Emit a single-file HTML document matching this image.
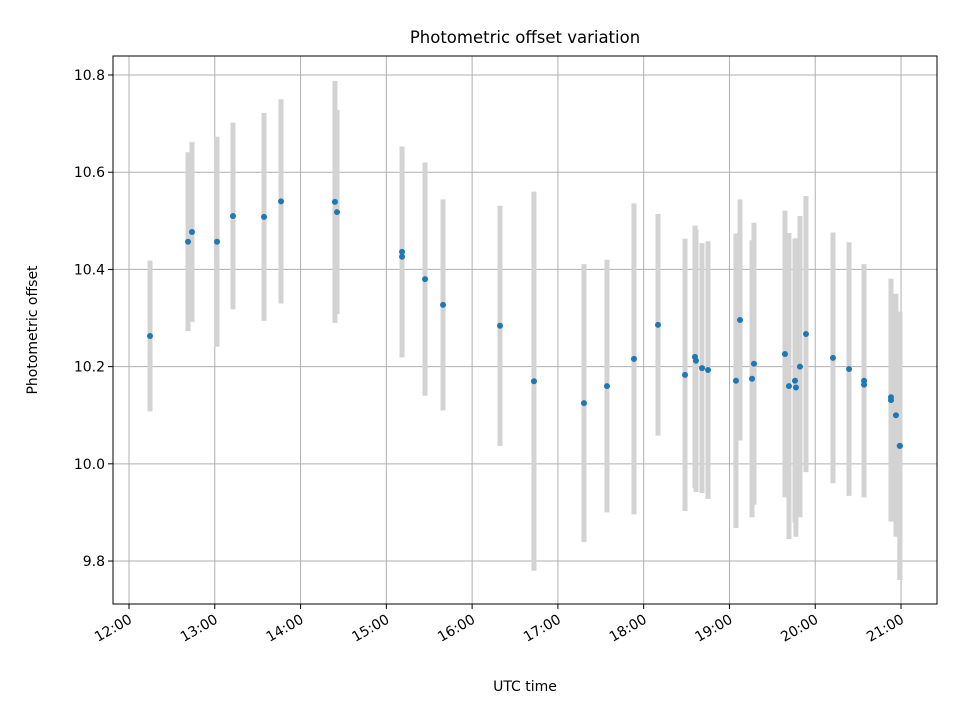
<!DOCTYPE html>
<html><head><meta charset="utf-8"><style>
body{margin:0;background:#fff;}
svg{display:block;font-family:"DejaVu Sans","Liberation Sans",sans-serif;}
</style></head><body>
<svg id="chart" width="960" height="720" viewBox="0 0 960 720" xmlns="http://www.w3.org/2000/svg">
<rect x="0" y="0" width="960" height="720" fill="#fff"/>
<g id="grid"></g>
<g id="bars"></g>
<g id="pts"></g>
<rect x="113" y="56" width="824" height="548" fill="none" stroke="#000" stroke-width="1"/>
<g id="axes"></g>
<text x="525" y="43" text-anchor="middle" font-size="16.5">Photometric offset variation</text>
<text x="525" y="691" text-anchor="middle" font-size="14">UTC time</text>
<text transform="translate(37,330) rotate(-90)" text-anchor="middle" font-size="14">Photometric offset</text>
</svg>
<script>
const times = [12.245,12.688,12.734,13.026,13.212,13.574,13.772,14.401,14.425,15.183,15.183,15.451,15.661,16.325,16.721,17.304,17.572,17.887,18.167,18.482,18.598,18.61,18.68,18.75,19.076,19.123,19.263,19.286,19.647,19.694,19.764,19.775,19.822,19.892,20.207,20.394,20.569,20.569,20.883,20.883,20.941,20.988,20.985];
const offsets = [10.263,10.457,10.477,10.457,10.51,10.508,10.54,10.539,10.518,10.436,10.426,10.38,10.327,10.284,10.17,10.125,10.16,10.216,10.286,10.183,10.22,10.212,10.197,10.193,10.171,10.296,10.175,10.206,10.226,10.16,10.171,10.157,10.2,10.267,10.218,10.195,10.171,10.163,10.137,10.131,10.1,10.037,10.037];
const errors = [0.155,0.184,0.185,0.216,0.192,0.214,0.21,0.249,0.21,0.217,0.0,0.24,0.217,0.247,0.39,0.286,0.26,0.32,0.228,0.28,0.27,0.27,0.257,0.265,0.303,0.248,0.285,0.29,0.295,0.315,0.292,0.307,0.31,0.284,0.258,0.261,0.24,0.0,0.243,0.25,0.25,0.276,0.276];
const xTicks = [12,13,14,15,16,17,18,19,20,21];
const xTickLabels = ["12:00","13:00","14:00","15:00","16:00","17:00","18:00","19:00","20:00","21:00"];
const yTicks = [9.8,10.0,10.2,10.4,10.6,10.8];
const yTickLabels = ["9.8","10.0","10.2","10.4","10.6","10.8"];

const NS="http://www.w3.org/2000/svg";
const X0=113,X1=937,Y0=56,Y1=604;
const xMin=11.8135,xMax=21.4195,yMin=9.7116,yMax=10.8391;
const xs=v=>X0+(v-xMin)/(xMax-xMin)*(X1-X0);
const ys=v=>Y1-(v-yMin)/(yMax-yMin)*(Y1-Y0);
function mk(tag,attrs,parent){const e=document.createElementNS(NS,tag);for(const k in attrs)e.setAttribute(k,attrs[k]);parent.appendChild(e);return e;}
const grid=document.getElementById('grid'),axes=document.getElementById('axes'),bars=document.getElementById('bars'),pts=document.getElementById('pts');

xTicks.forEach((t,i)=>{
  const x=xs(t);
  const g=mk('line',{x1:x,x2:x,y1:Y0,y2:Y1,stroke:'#b0b0b0','stroke-width':1},grid);
  
  
  const tk=mk('line',{x1:x,x2:x,y1:Y1,y2:Y1+5,stroke:'#000','stroke-width':1},axes);
  
  
  const tx=mk('text',{'font-size':14,'text-anchor':'end',transform:`translate(${x+4},${Y1+18}) rotate(-30)`},axes);
  tx.textContent=xTickLabels[i];
  
  
});
yTicks.forEach((t,i)=>{
  const y=ys(t);
  const g=mk('line',{x1:X0,x2:X1,y1:y,y2:y,stroke:'#b0b0b0','stroke-width':1},grid);
  
  
  const tk=mk('line',{x1:X0-5,x2:X0,y1:y,y2:y,stroke:'#000','stroke-width':1},axes);
  
  
  const tx=mk('text',{x:X0-8,y:y+5,'font-size':14,'text-anchor':'end'},axes);
  tx.textContent=yTickLabels[i];
  
  
});
times.forEach((t,i)=>{
  if(errors[i]>0){
    const b=mk('line',{x1:xs(t),x2:xs(t),y1:ys(offsets[i]+errors[i]),y2:ys(offsets[i]-errors[i]),stroke:'#d3d3d3','stroke-width':5},bars);
    
    
  }
});
times.forEach((t,i)=>{
  const c=mk('circle',{cx:xs(t),cy:ys(offsets[i]),r:3,fill:'#1f77b4'},pts);
  
  
});
</script>
</body></html>
